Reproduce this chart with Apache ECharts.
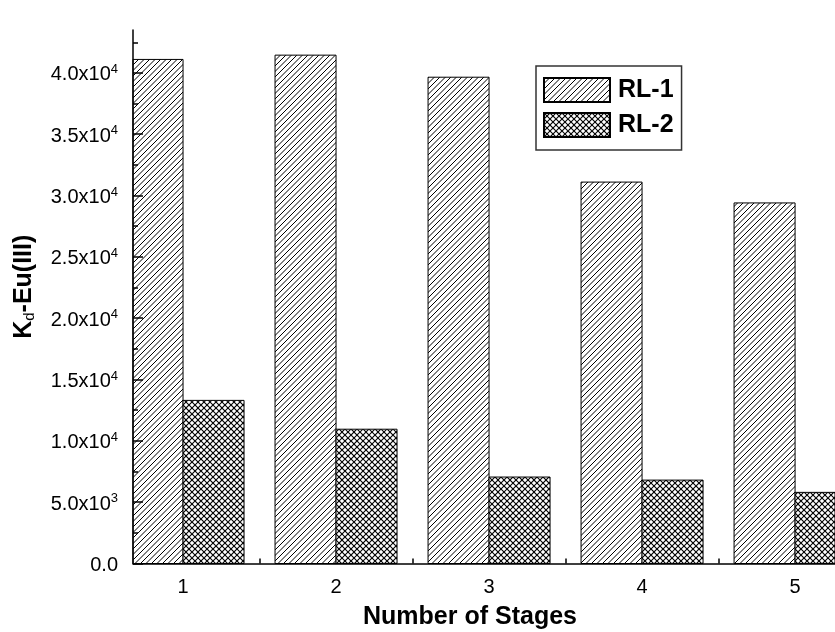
<!DOCTYPE html>
<html>
<head>
<meta charset="utf-8">
<script src="https://cdn.jsdelivr.net/npm/echarts@6/dist/echarts.min.js"></script>
<style>html,body{margin:0;padding:0;background:#fff}#c{width:835px;height:632px}</style>
</head>
<body>
<div id="c"></div>
<script>
const categories = [1, 2, 3, 4, 5];
const seriesNames = ['RL-1', 'RL-2'];
const rl1 = [41100, 41450, 39650, 31100, 29400];
const rl2 = [13300, 10950, 7050, 6800, 5800];
const yMajorTicks = [0, 5000, 10000, 15000, 20000, 25000, 30000, 35000, 40000];
const yMinorTicks = [2500, 7500, 12500, 17500, 22500, 27500, 32500, 37500, 42500];
const xTicks = [1.5, 2.5, 3.5, 4.5];

const FONT = '"Liberation Sans", Arial, sans-serif';
const BAR_W = 61;

function hatch() {
  const s = 11, c = document.createElement('canvas');
  c.width = s; c.height = s;
  const g = c.getContext('2d');
  g.fillStyle = '#fff'; g.fillRect(0, 0, s, s);
  g.strokeStyle = '#000'; g.lineWidth = 1;
  for (let k = -2; k <= 5; k++) {
    const v = k * 5.5;
    g.beginPath(); g.moveTo(v, 0); g.lineTo(v - s, s); g.stroke();
  }
  return c;
}
function cross() {
  const s = 12, c = document.createElement('canvas');
  c.width = s; c.height = s;
  const g = c.getContext('2d');
  g.fillStyle = '#fff'; g.fillRect(0, 0, s, s);
  g.strokeStyle = '#000'; g.lineWidth = 1.1;
  for (let k = -2; k <= 5; k++) {
    const v = k * 6;
    g.beginPath(); g.moveTo(v, 0); g.lineTo(v - s, s); g.stroke();
    g.beginPath(); g.moveTo(v, 0); g.lineTo(v + s, s); g.stroke();
  }
  return c;
}

function yFmt(v) {
  if (v === 0) return '{m|0.0}';
  const e = Math.floor(Math.log10(v) + 1e-9);
  const m = v / Math.pow(10, e);
  return '{m|' + m.toFixed(1) + 'x10}{s|' + e + '}';
}

// bars drawn through the axis scales, clipped to the plot area
function barRenderer(side) {
  return function (params, api) {
    const x = api.value(0), y = api.value(1);
    const p0 = api.coord([x, 0]);
    const p1 = api.coord([x, y]);
    const rect = {
      x: side < 0 ? p0[0] - BAR_W : p0[0],
      y: p1[1],
      width: BAR_W,
      height: p0[1] - p1[1]
    };
    const cs = params.coordSys;
    const clipped = echarts.graphic.clipRectByRect(rect, {x: cs.x, y: cs.y, width: cs.width, height: cs.height});
    if (!clipped) return null;
    return {type: 'rect', shape: clipped, style: api.style()};
  };
}

const chart = echarts.init(document.getElementById('c'), null, {renderer: 'canvas'});
const axisColor = '#000';
chart.setOption({
  animation: false,
  backgroundColor: '#fff',
  textStyle: {fontFamily: FONT},
  grid: {left: 133, top: 30, right: 0, bottom: 68.5, outerBoundsMode: 'none', containLabel: false},
  legend: {
    orient: 'vertical',
    left: 536, top: 66,
    data: seriesNames,
    icon: 'rect',
    itemWidth: 66, itemHeight: 24, itemGap: 9,
    padding: [11, 8, 12, 7],
    borderColor: '#333', borderWidth: 1.5,
    textStyle: {fontSize: 25, fontWeight: 'bold', color: '#000', fontFamily: FONT, lineHeight: 24, padding: [0, 0, 0, 3]}
  },
  xAxis: {
    type: 'value',
    min: 0.673, max: 5.261,
    z: 5,
    name: 'Number of Stages',
    nameLocation: 'middle',
    nameGap: 41,
    nameTextStyle: {fontSize: 25, fontWeight: 'bold', color: '#000', fontFamily: FONT, padding: [0, 28, 0, 0]},
    axisLine: {lineStyle: {color: axisColor, width: 1.5}},
    axisTick: {inside: true, length: 5, customValues: xTicks, lineStyle: {color: axisColor, width: 1.5}},
    axisLabel: {customValues: categories, fontSize: 20, color: '#000', margin: 14, fontFamily: FONT},
    splitLine: {show: false}
  },
  yAxis: [{
    type: 'value',
    min: 0, max: 43500,
    z: 5,
    name: '{k|K}{d|d}{e|-Eu(III)}',
    nameLocation: 'middle',
    nameGap: 96,
    nameRotate: 90,
    nameTextStyle: {
      color: '#000', fontFamily: FONT,
      padding: [0, 0, 0, 20],
      rich: {
        k: {fontSize: 25, fontWeight: 'bold', fontFamily: FONT, color: '#000'},
        d: {fontSize: 15, fontFamily: FONT, color: '#000', padding: [11, 0, 0, 0]},
        e: {fontSize: 25, fontWeight: 'bold', fontFamily: FONT, color: '#000'}
      }
    },
    axisLine: {show: true, lineStyle: {color: axisColor, width: 1.5}},
    axisTick: {show: true, inside: true, length: 10, customValues: yMajorTicks, lineStyle: {color: axisColor, width: 1.5}},
    axisLabel: {
      customValues: yMajorTicks,
      margin: 15,
      padding: [4, 0, 0, 0],
      formatter: yFmt,
      rich: {
        m: {fontSize: 20, color: '#000', fontFamily: FONT},
        s: {fontSize: 13, color: '#000', fontFamily: FONT, padding: [0, 0, 11, 0]}
      }
    },
    splitLine: {show: false}
  }, {
    type: 'value',
    min: 0, max: 43500,
    position: 'left',
    z: 5,
    axisLine: {show: false},
    axisLabel: {show: false},
    axisTick: {show: true, inside: true, length: 5, customValues: yMinorTicks, lineStyle: {color: axisColor, width: 1.5}},
    splitLine: {show: false}
  }],
  series: [{
    name: seriesNames[0],
    type: 'custom',
    renderItem: barRenderer(-1),
    itemStyle: {color: {image: hatch(), repeat: 'repeat'}, borderColor: '#000', borderWidth: 1},
    encode: {x: 0, y: 1},
    data: categories.map((c, i) => [c, rl1[i]])
  }, {
    name: seriesNames[1],
    type: 'custom',
    renderItem: barRenderer(1),
    itemStyle: {color: {image: cross(), repeat: 'repeat'}, borderColor: '#000', borderWidth: 1},
    encode: {x: 0, y: 1},
    data: categories.map((c, i) => [c, rl2[i]])
  }]
});
</script>
</body>
</html>
